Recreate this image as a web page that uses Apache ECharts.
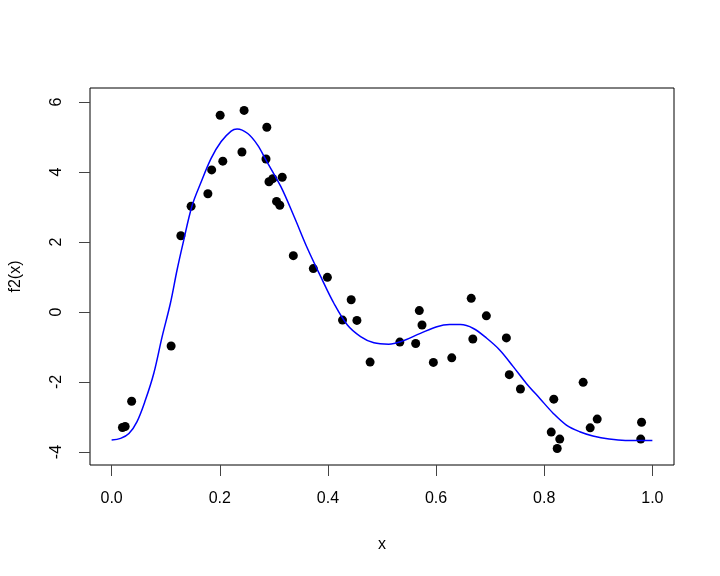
<!DOCTYPE html>
<html>
<head>
<meta charset="utf-8">
<script src="https://cdn.jsdelivr.net/npm/echarts@6/dist/echarts.min.js"></script>
<style>html,body{margin:0;padding:0;background:#fff}#c{width:720px;height:576px}</style>
</head>
<body>
<div id="c"></div>
<script>
// observed points
const ptX = [0.020,0.025,0.037,0.110,0.128,0.147,0.178,0.185,0.2007,0.2056,0.241,0.245,0.2855,0.287,0.291,0.298,0.305,0.311,0.3155,0.336,0.373,0.399,0.427,0.443,0.4536,0.478,0.533,0.5623,0.569,0.574,0.595,0.629,0.665,0.668,0.693,0.730,0.7354,0.756,0.813,0.8177,0.824,0.8287,0.872,0.885,0.898,0.964,0.9785,0.980];
const ptY = [-3.30,-3.27,-2.55,-0.97,2.18,3.02,3.38,4.06,5.62,4.31,4.57,5.76,4.37,5.28,3.72,3.81,3.16,3.05,3.85,1.61,1.24,0.99,-0.23,0.35,-0.24,-1.43,-0.86,-0.90,0.04,-0.37,-1.44,-1.31,0.39,-0.77,-0.11,-0.74,-1.79,-2.20,-3.43,-2.49,-3.90,-3.63,-2.01,-3.31,-3.06,-4.48,-3.63,-3.15];
// fitted curve f2(x)
const curveX = [0,0.0166,0.032,0.047,0.0626,0.078,0.0933,0.1087,0.121,0.132,0.1486,0.1657,0.184,0.2026,0.221,0.232,0.2517,0.270,0.2855,0.313,0.3376,0.362,0.3867,0.411,0.436,0.4604,0.485,0.5125,0.534,0.571,0.6015,0.625,0.645,0.669,0.6937,0.718,0.7427,0.767,0.7919,0.8164,0.841,0.8656,0.890,0.92,0.95,1.0];
const curveY = [-3.66,-3.61,-3.47,-3.13,-2.51,-1.75,-0.71,0.25,1.2,1.96,3.03,3.72,4.39,4.87,5.17,5.23,5.10,4.77,4.34,3.58,2.72,1.82,1.01,0.25,-0.37,-0.70,-0.88,-0.92,-0.85,-0.61,-0.42,-0.36,-0.36,-0.47,-0.75,-1.09,-1.56,-2.04,-2.47,-2.89,-3.23,-3.42,-3.54,-3.63,-3.67,-3.67];
const xTicks = [0,0.2,0.4,0.6,0.8,1.0];
const yTicks = [-4,-2,0,2,4,6];

const font = 'Liberation Sans, Arial, Helvetica, sans-serif';
const chart = echarts.init(document.getElementById('c'), null, {renderer:'canvas'});
chart.setOption({
  animation:false,
  backgroundColor:'#fff',
  grid:{left:88,right:46,top:88,bottom:111,show:true,borderColor:'#000',borderWidth:1,backgroundColor:'transparent'},
  xAxis:{
    type:'value',min:-0.04,max:1.04,
    name:'x',nameLocation:'middle',nameGap:72,
    nameTextStyle:{fontFamily:font,fontSize:16,color:'#000'},
    axisLine:{show:false,onZero:false},
    splitLine:{show:false},
    axisTick:{show:true,inside:false,length:11,customValues:xTicks,lineStyle:{color:'#444'}},
    axisLabel:{customValues:xTicks,margin:26,fontFamily:font,fontSize:16,color:'#000',formatter:v=>v.toFixed(1)}
  },
  yAxis:{
    type:'value',min:-4.371,max:6.4,
    name:'f2(x)',nameLocation:'middle',nameGap:66,nameRotate:90,
    nameTextStyle:{fontFamily:font,fontSize:16,color:'#000'},
    axisLine:{show:false,onZero:false},
    splitLine:{show:false},
    axisTick:{show:true,inside:false,length:11,customValues:yTicks,lineStyle:{color:'#444'}},
    axisLabel:{customValues:yTicks,rotate:90,margin:25,fontFamily:font,fontSize:16,color:'#000',formatter:v=>String(v)}
  },
  series:[
    {type:'scatter',data:ptX.map((x,i)=>[x,ptY[i]]),symbol:'circle',symbolSize:9,itemStyle:{color:'#000',opacity:1},clip:true,z:2},
    {type:'line',data:curveX.map((x,i)=>[x,curveY[i]]),showSymbol:false,smooth:0.35,lineStyle:{color:'#0000ff',width:1.5},clip:true,z:3}
  ]
});
</script>
</body>
</html>
